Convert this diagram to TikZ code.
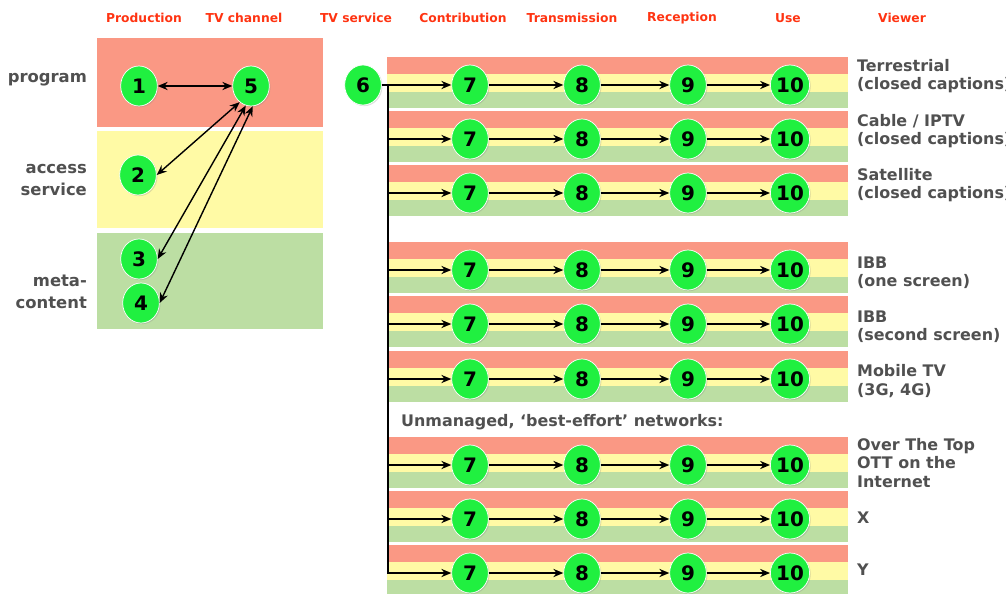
\documentclass[tikz,border=0pt]{standalone}
\usepackage{fontspec}
\setmainfont{DejaVu Sans}
\usetikzlibrary{positioning,arrows.meta,shapes.geometric,shadows}

\definecolor{bandred}{RGB}{250,152,132}
\definecolor{bandyellow}{RGB}{255,250,165}
\definecolor{bandgreen}{RGB}{188,222,163}
\definecolor{stagegreen}{RGB}{32,240,64}
\definecolor{headred}{RGB}{255,51,17}
\definecolor{labelgrey}{RGB}{80,80,80}

\tikzset{
	stage/.style={ellipse, draw=white, line width=0.6pt, fill=stagegreen, minimum width=1.1cm, minimum height=1.2cm, inner sep=0pt, font=\fontsize{17}{17}\selectfont\bfseries, drop shadow={opacity=0.25, shadow xshift=1pt, shadow yshift=-1pt}},
	head/.style={font=\fontsize{10.5}{12}\selectfont\bfseries, text=headred},
	rowlabel/.style={font=\fontsize{14}{19}\selectfont\bfseries, text=labelgrey, align=right, anchor=east},
	netlabel/.style={font=\fontsize{13.6}{15.5}\selectfont\bfseries, text=labelgrey, align=left, anchor=west},
	flow/.style={-{Stealth[length=8.5pt,width=7pt]}, line width=1.2pt},
	twoway/.style={{Stealth[length=8.5pt,width=7pt]}-{Stealth[length=8.5pt,width=7pt]}, line width=1.2pt},
}

\begin{document}
\begin{tikzpicture}[x=0.03cm, y=-0.03cm]
	\useasboundingbox (0,0) rectangle (1006,594);
	
	% stage headings
	\node [head] (hprod) at (144,18) {Production};
	\node [head] (hchan) at (244,18) {TV channel};
	\node [head] (hserv) at (356,18) {TV service};
	\node [head] (hcont) at (463,18) {Contribution};
	\node [head] (htran) at (572,18) {Transmission};
	\node [head] (hrecp) at (682,18) {Reception};
	\node [head] (huse) at (788,18) {Use};
	\node [head] (hview) at (902,18) {Viewer};
	
	% production block
	\fill [bandred] (97,38) rectangle (323,127);
	\fill [bandyellow] (97,131) rectangle (323,228);
	\fill [bandgreen] (97,233) rectangle (323,329);
	
	\node [rowlabel] (lprog) at (91,80) {program};
	\node [rowlabel] (lacc) at (91,180) {access\\service};
	\node [rowlabel] (lmeta) at (91,292) {meta-\\content};
	
	% delivery rows
	\foreach \r/\y in {1/85,2/139,3/193,4/270,5/324,6/379,7/465,8/519,9/573} {
		\fill [bandred] (387,\y-28) rectangle (848,\y-11);
		\fill [bandyellow] (387,\y-11) rectangle (848,\y+7);
		\fill [bandgreen] (387,\y+7) rectangle (848,\y+23);
		\node [stage] (s7r\r) at (470,\y) {7};
		\node [stage] (s8r\r) at (582,\y) {8};
		\node [stage] (s9r\r) at (688,\y) {9};
		\node [stage] (s10r\r) at (790,\y) {10};
		\draw [flow] (s7r\r) -- (s8r\r);
		\draw [flow] (s8r\r) -- (s9r\r);
		\draw [flow] (s9r\r) -- (s10r\r);
	}
	
	\node [stage] (one) at (139,86) {1};
	\node [stage] (two) at (138,175) {2};
	\node [stage] (three) at (139,259) {3};
	\node [stage] (four) at (141,303) {4};
	\node [stage] (five) at (251,86) {5};
	\node [stage] (six) at (363,85) {6};
	
	\draw [twoway] (one) -- (five);
	\draw [twoway] (five.235) -- (two.east);
	\draw [twoway] (five.255) -- (three.east);
	\draw [twoway] (five.275) -- (four.east);
	\draw [flow] (six) -- (s7r1);
	
	\coordinate (trunk) at (388,85);
	\foreach \r in {2,...,9}
		\draw [flow] (trunk) |- (s7r\r);
	
	% networks
	\node [netlabel] (tterr) at (853,76) {Terrestrial\\(closed captions)};
	\node [netlabel] (tcab) at (853,131) {Cable / IPTV\\(closed captions)};
	\node [netlabel] (tsat) at (853,185) {Satellite\\(closed captions)};
	\node [netlabel] (tibb1) at (853,273) {IBB\\(one screen)};
	\node [netlabel] (tibb2) at (853,327) {IBB\\(second screen)};
	\node [netlabel] (tmob) at (853,381) {Mobile TV\\(3G, 4G)};
	\node [netlabel] (tott) at (853,463) {Over The Top\\OTT on the\\Internet};
	\node [netlabel] (tx) at (853,518) {X};
	\node [netlabel] (ty) at (853,570) {Y};
	\node [netlabel] (tunman) at (397,422) {Unmanaged, ‘best-effort’ networks:};
\end{tikzpicture}
\end{document}
